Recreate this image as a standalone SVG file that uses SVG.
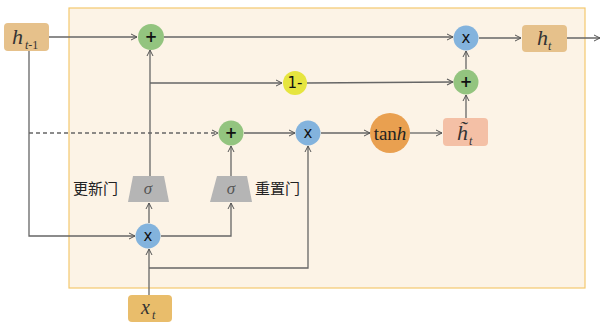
<svg xmlns="http://www.w3.org/2000/svg" width="600" height="327" viewBox="0 0 600 327">
<defs>
<marker id="arr" markerWidth="8" markerHeight="8" refX="7" refY="4" orient="auto" markerUnits="userSpaceOnUse">
<path d="M1,1 L7,4 L1,7" fill="none" stroke="#555" stroke-width="1"/>
</marker>
<style>
.ln{fill:none;stroke:#666;stroke-width:1.3}
.dash{fill:none;stroke:#666;stroke-width:1.5;stroke-dasharray:4,3}
.g{fill:#93c47f}
.b{fill:#83b3dd}
.y{fill:#e6e53f}
.op{font-family:"DejaVu Sans","Liberation Sans",sans-serif;font-size:15px;fill:#111;text-anchor:middle;dominant-baseline:central}
.it{font-family:"Liberation Serif",serif;font-style:italic;fill:#333}
.sig{font-family:"Liberation Serif",serif;font-style:italic;font-size:17px;fill:#555;text-anchor:middle}
.cn{font-family:"Noto Sans CJK SC",sans-serif;font-size:15px;fill:#222}
.trap{fill:#b5b5b5}
</style>
</defs>
<rect x="69" y="8" width="516" height="280" fill="#fcf3e6" stroke="#f3c96e" stroke-width="1.2"/>
<g id="connectors">
<path class="ln" d="M49,37 L137,37" marker-end="url(#arr)"/>
<path class="ln" d="M164,37 L453,37" marker-end="url(#arr)"/>
<path class="ln" d="M479,38 L521,38" marker-end="url(#arr)"/>
<path class="ln" d="M567,38 L600,38" marker-end="url(#arr)"/>
<path class="ln" d="M150,83 L282,83" marker-end="url(#arr)"/>
<path class="ln" d="M307,83 L453,82" marker-end="url(#arr)"/>
<path class="ln" d="M466,69 L466,51" marker-end="url(#arr)"/>
<path class="ln" d="M466,118 L466,95" marker-end="url(#arr)"/>
<path class="dash" d="M29,133 L218,133" marker-end="url(#arr)"/>
<path class="ln" d="M244,133 L295,133" marker-end="url(#arr)"/>
<path class="ln" d="M321,133 L370,133" marker-end="url(#arr)"/>
<path class="ln" d="M410,133 L442,133" marker-end="url(#arr)"/>
<path class="ln" d="M29,51 L29,236 L135,236" marker-end="url(#arr)"/>
<path class="ln" d="M150,176 L150,50" marker-end="url(#arr)"/>
<path class="ln" d="M231,176 L231,146" marker-end="url(#arr)"/>
<path class="ln" d="M149,223 L149,203" marker-end="url(#arr)"/>
<path class="ln" d="M161,236 L231,236 L231,203" marker-end="url(#arr)"/>
<path class="ln" d="M149,295 L149,249" marker-end="url(#arr)"/>
<path class="ln" d="M149,268 L308,268 L308,146" marker-end="url(#arr)"/>
</g>
<g id="h_prev">
<rect x="4" y="23" width="45" height="28" rx="4" fill="#e6c18b"/>
<text x="12" y="44" class="it" font-size="22">h</text>
<text x="25" y="49" class="it" font-size="12">t<tspan font-style="normal">-1</tspan></text>
</g>
<g id="add_top">
<circle cx="151" cy="37" r="13" class="g"/>
<text x="151" y="37" class="op" font-weight="bold">+</text>
</g>
<g id="mul_top">
<circle cx="466" cy="38" r="12.5" class="b"/>
<text x="466" y="38" class="op">x</text>
</g>
<g id="h_t">
<rect x="522" y="25" width="45" height="27" rx="4" fill="#e6c18b"/>
<text x="537" y="45" class="it" font-size="22">h</text>
<text x="548" y="50" class="it" font-size="12">t</text>
</g>
<g id="one_minus">
<circle cx="295" cy="83" r="12" class="y"/>
<text x="295" y="83" class="op" font-size="14">1-</text>
</g>
<g id="add_right">
<circle cx="466" cy="82" r="12.5" class="g"/>
<text x="466" y="82" class="op" font-weight="bold">+</text>
</g>
<g id="h_cand">
<rect x="443" y="118" width="45" height="28" rx="4" fill="#f4c0a6"/>
<text x="457" y="140" class="it" font-size="22">h̃<tspan font-size="12" dx="1" dy="5">t</tspan></text>
</g>
<g id="add_mid">
<circle cx="231" cy="133" r="12.5" class="g"/>
<text x="231" y="133" class="op" font-weight="bold">+</text>
</g>
<g id="mul_mid">
<circle cx="308" cy="133" r="12.5" class="b"/>
<text x="308" y="133" class="op">x</text>
</g>
<g id="tanh">
<circle cx="390" cy="133" r="20" fill="#e9a050"/>
<text x="390" y="140" font-family="Liberation Serif,serif" font-size="19" fill="#222" text-anchor="middle">tan<tspan font-style="italic">h</tspan></text>
</g>
<g id="update_gate">
<polygon points="133,176 164,176 169,202 128,202" class="trap"/>
<text x="148" y="194" class="sig">σ</text>
<text x="73" y="194" class="cn">更新门</text>
</g>
<g id="reset_gate">
<polygon points="217,176 247,176 252,202 210,202" class="trap"/>
<text x="231" y="194" class="sig">σ</text>
<text x="255" y="194" class="cn">重置门</text>
</g>
<g id="mul_bottom">
<circle cx="148" cy="236" r="12.5" class="b"/>
<text x="148" y="236" class="op">x</text>
</g>
<g id="x_t">
<rect x="128" y="295" width="44" height="27" rx="4" fill="#e9bd6b"/>
<text x="141" y="314" class="it" font-size="20">x</text>
<text x="152" y="319" class="it" font-size="12">t</text>
</g>
</svg>
